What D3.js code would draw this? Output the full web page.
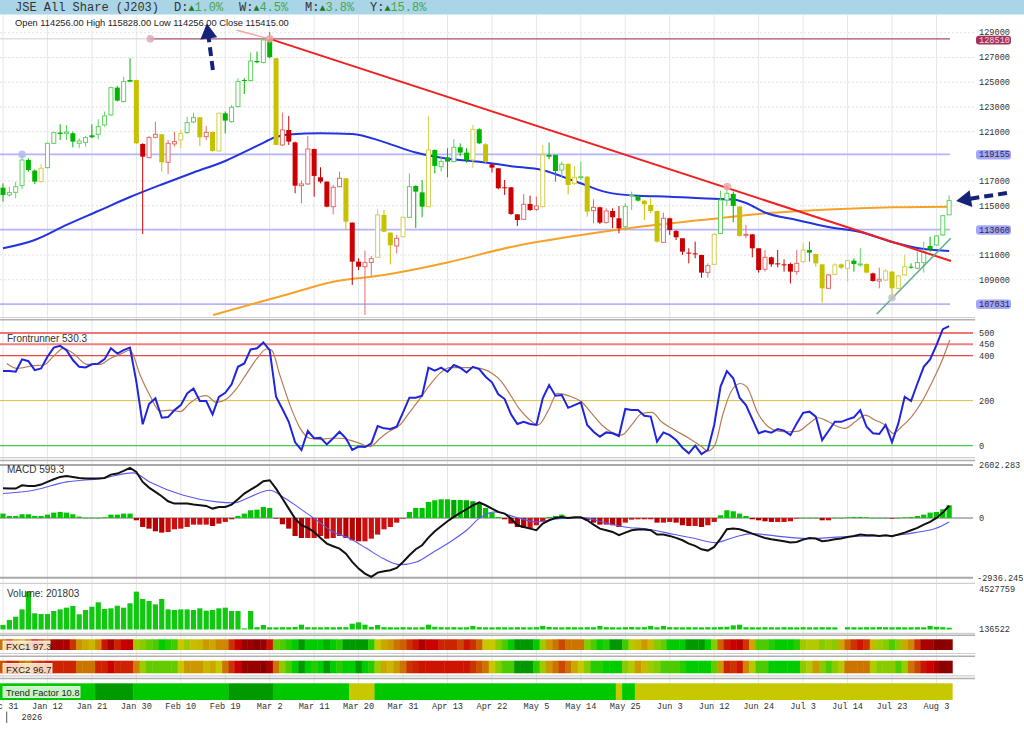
<!DOCTYPE html>
<html><head><meta charset="utf-8">
<script src="https://cdn.jsdelivr.net/npm/d3@7"></script>
<style>
html,body{margin:0;padding:0;background:#fff;overflow:hidden;}
svg{display:block;}
</style></head><body>
<svg id="c" width="1024" height="735"></svg>
<script>
// ---------------- DATA ----------------
const tickIdx = [0,7,14,21,28,35,42,49,56,63,70,77,84,91,98,105,112,119,126,133,140,147];
const tickLabels = ["Dec 31","Jan 12","Jan 21","Jan 30","Feb 10","Feb 19","Mar 2","Mar 11","Mar 20","Mar 31","Apr 13","Apr 22","May 5","May 14","May 25","Jun 3","Jun 12","Jun 24","Jul 3","Jul 14","Jul 23","Aug 3"];
const priceTicks = [127000,125000,123000,121000,117000,115000,111000,109000];
const priceLevels = [119155,113060,107031];
const highLevel = 128510;
const frontLevels = [500,450,400,200,0];

const opens = [116460,115870,116080,116620,118700,117840,116950,118080,120050,120920,
120860,120860,120050,120130,120700,120780,121540,122350,124560,123430,
125180,125180,120000,118890,120540,120780,118510,120000,120320,120920,
121780,122160,120590,120970,119430,122480,121810,123020,125180,125130,
126720,126590,128480,126940,119920,121130,120130,116620,116760,119590,
117300,116950,114920,116540,117220,113630,110470,110060,110410,110820,
114250,112820,111740,112490,114060,116600,116080,114920,119510,118160,
118920,118570,119730,119300,118700,121190,119970,118350,118030,116490,
116490,114300,113900,115140,114710,114920,119110,119110,117890,118380,
116810,117300,117350,114600,114870,113630,114570,113980,113300,115790,
115730,115410,115060,114570,112030,113980,112950,112360,111200,111140,
111010,109600,110250,112760,115460,115950,114920,112630,112680,111550,
109850,110820,110330,110250,110280,109660,110470,111410,111090,110250,
108310,109440,110250,109930,110550,110200,110280,109520,108900,108980,
109660,108310,109390,110060,109930,110390,111740,111820,112630,114256];
const highs = [116810,116540,116950,119110,118840,117950,118380,120110,121000,121590,
121540,121000,120460,120650,121590,122000,122620,124640,124700,125450,
126940,125200,120050,120650,121810,120800,120320,121000,121130,122210,
122540,122180,121460,120990,122540,122620,123160,125320,125320,127400,
127480,128560,129050,126960,122540,122270,120190,117030,120650,119610,
118110,116970,116680,117760,117240,113650,110740,111360,110930,114710,
114650,112840,112630,114080,117620,116650,117080,122270,119560,118970,
119650,120380,120050,119650,121540,121270,120050,118430,118050,117080,
116510,114320,115950,115810,115730,119920,120110,119130,118570,118430,
118220,118570,117400,115520,114920,114790,114790,114980,115200,116140,
115870,115450,115600,114600,114440,114030,113030,112380,111550,112090,
111030,110330,112760,116220,116680,116140,114980,113440,112710,111570,
111410,110870,111410,110660,110390,111410,111950,112090,111100,110270,
109470,110330,110330,110600,110740,111550,110330,109580,109980,109850,
109700,109390,111010,110330,111280,112090,112490,112630,114250,115828];
const lows = [115330,115730,115600,116330,117760,116760,116870,118030,120000,120320,
120320,119730,119650,119780,120460,120380,121400,122270,123430,123350,
125040,120000,112710,118860,120460,117760,117570,119780,119650,120810,
121670,119840,120320,119380,119380,120860,121730,122970,124050,125050,
126530,126530,126940,119900,119840,119920,116000,115190,116680,115730,
116810,114870,114300,116490,113030,108580,109790,106150,109310,110760,
112870,110250,111140,112460,114000,113200,114060,114870,117620,117760,
117300,118490,119030,118490,118030,120000,118430,117680,116330,115870,
114250,113360,113850,114570,114570,114870,118760,116950,117300,115920,
116680,117080,114110,113570,113520,113570,113170,112760,113000,114650,
115330,113840,114380,112010,112000,112630,112220,111010,110330,110740,
109170,109170,110200,112710,114980,113650,112490,112360,110820,109580,
109660,110060,110010,109660,108710,109390,110390,110470,110060,107150,
108250,109380,109850,108850,109660,110060,109520,108850,108310,108900,
107500,108250,109330,109900,109850,109580,111280,111740,112550,114256];
const closes = [115870,116060,116540,118700,117890,116950,118030,120050,120920,120810,
120970,120190,120240,120510,120540,121400,122270,124560,123510,125050,
125040,120050,118970,120510,120780,118510,120050,120190,120860,121730,
122130,120540,120940,119430,122480,121890,122970,125050,125100,126720,
126610,128420,127020,119920,121130,120190,116620,116760,119590,117410,
116950,114920,116490,117220,113710,110470,110060,110390,110710,114250,
112900,111790,112360,114060,116540,116140,114920,119510,118220,118570,
118570,119730,119300,118700,121190,120050,118570,118080,116410,116430,
114330,113840,115110,114650,114980,119110,118970,117810,118350,116680,
117300,117350,114520,114870,113630,114570,114060,113170,114950,115870,
115410,115110,114570,112090,113980,113030,112440,111280,111140,111060,
109580,110140,112680,115460,116000,114980,112550,112680,111550,109790,
110820,110250,110250,110220,109660,110330,111410,111200,110330,108310,
109390,110200,109980,110550,110280,110280,109580,108900,109040,109710,
108310,109310,110060,109980,110390,111280,111470,112550,114190,115415];
const candleColors = "GGGGGGYGGG"+"GGGGGGGGGG"+"GYRRRYRRYG"+"GYRYYGGGGG"+"GGGYRRRRRR"+
  "RRRRYRRRRY"+"YYRYGGGYGG"+"GGGGYGYRRR"+"RRRRRYGGGY"+"YGYRRRRRGG"+
  "GYYYRRRRRR"+"RRYGGGYRRR"+"RRRRRRYGYY"+"RYYYGGYRRY"+"YYYGGGGGGG";

const ma50Idx = [0,5,10,15,20,25,30,35,40,43,45,50,55,60,65,70,75,80,85,90,95,100,105,110,115,117,120,125,130,135,140,145,149];
const ma50Val = [111550,112220,113440,114570,115700,116720,117690,118620,119840,120560,120770,120860,120810,120150,119300,118800,118560,118200,117870,117000,116100,115800,115730,115600,115500,115220,114450,113840,113280,112870,112060,111490,111330];
const ma200Idx = [33.1,40,45,52,60,70,80,90,100,110,120,130,140,149];
const ma200Val = [106150,107140,107850,108840,109390,110400,111660,112550,113280,113840,114380,114690,114870,114920];

const frontBlue = [331,331,328,383,375,335,343,395,435,443,
424,380,350,347,361,364,384,432,409,424,
435,284,95,185,210,124,127,158,180,232,
254,198,198,139,217,235,272,350,365,427,
432,458,424,217,163,106,15,-19,65,33,
35,6,33,62,33,-19,-4,-6,10,87,
77,74,84,148,213,213,222,346,333,346,
328,358,346,325,350,340,306,281,228,207,
139,96,106,96,92,210,269,222,225,168,
180,192,92,62,40,59,55,43,163,158,
158,133,129,18,59,47,25,-9,-34,0,
-37,-19,92,262,331,299,213,180,118,55,
65,58,74,67,47,99,146,151,129,25,
65,106,106,117,126,158,84,55,52,92,
15,99,217,198,276,350,383,446,517,530.3];
const frontSigIdx = [0.6,2.2,4.8,6.4,7.9,9.5,11.1,13.2,15.3,16.9,18.4,20,21.6,23.1,24.7,26.3,27.9,29.4,31,32,33.6,35.2,36.8,38.4,40,41.5,42.3,43.6,45.2,46.8,48.3,49.9,51.5,53.1,54.6,56.2,57.8,59.4,60.9,62.5,64.1,65.7,67.2,68.8,70.4,72,73.5,74.5,77,78.5,79.6,81.2,82.7,84.3,85.9,87.3,89.5,91.1,92.7,94.3,95.9,97.4,99,100.6,102.2,103.7,105.8,107.9,110,111,112.1,113.4,114.8,116.1,117.1,118.9,120.5,122.1,123.7,125.3,126.8,128.4,130,131.5,132.6,134.2,135.8,137.3,138.9,140.2,141.5,143.1,144.7,146.2,147.8,149.1];
const frontSigVal = [365,343,355,358,395,432,409,361,361,387,405,424,313,225,154,158,151,188,217,222,192,207,254,321,387,429,424,313,180,77,33,28,33,33,25,10,-4,33,65,92,151,210,269,321,346,346,346,345,321,284,239,168,121,92,158,232,217,195,143,92,59,47,92,143,148,106,69,35,-4,-24,3,143,247,276,262,143,84,65,62,65,95,124,106,84,77,106,136,114,92,55,84,129,195,276,372,469];

const macdLine = [1459,1443,1443,1607,1574,1574,1640,1771,1902,2016,
2066,2016,1967,1934,1934,1934,1967,2131,2180,2311,
2459,2262,1771,1492,1279,1066,821,706,706,706,
657,624,591,460,542,542,657,919,1197,1394,
1574,1803,1853,1443,952,460,-31,-359,-490,-687,
-981,-1260,-1391,-1506,-1752,-2161,-2489,-2735,-2898,-2685,
-2620,-2571,-2456,-2161,-1834,-1538,-1342,-965,-654,-408,
-162,51,247,428,624,770,624,460,297,215,
-31,-359,-441,-523,-604,-277,-113,2,51,2,
34,34,-113,-326,-523,-604,-686,-850,-719,-604,
-572,-572,-604,-817,-817,-883,-981,-1096,-1260,-1375,
-1539,-1604,-1424,-1014,-555,-523,-555,-654,-768,-883,
-981,-1047,-1096,-1145,-1211,-1178,-1063,-981,-1014,-1145,
-1112,-1047,-1014,-932,-883,-817,-850,-850,-883,-850,
-899,-817,-719,-604,-490,-326,-195,2,264,599.3];
const macdSigIdx = [0,4.8,10,15.3,20.5,23.1,28.4,33.7,36.3,38.9,42,44.1,46.8,49.4,52,54.6,57.3,59.9,62.5,65.1,67.8,70.4,73,75.1,77.5,80.6,84,87.5,91.1,95.3,97.9,101.6,105.8,109,112.1,115.3,117.9,121.6,126.8,132.1,137.3,140.5,143.6,146.8,149];
const macdSigVal = [1200,1361,1771,1934,2213,1771,1115,788,739,1034,1361,1034,460,-113,-686,-1014,-1505,-1997,-2292,-2161,-1670,-1178,-604,2,297,51,-195,-31,18,-277,-441,-555,-817,-1014,-1211,-932,-768,-883,-1014,-932,-883,-850,-719,-523,-195];
const macdHist = [213,98,98,180,180,98,98,164,262,295,
262,180,66,10,10,10,33,164,164,213,
213,-115,-443,-525,-656,-722,-689,-558,-525,-443,
-328,-328,-328,-394,-279,-197,-66,98,213,377,
410,541,492,-33,-312,-525,-886,-984,-984,-984,
-886,-1017,-984,-886,-984,-1099,-1148,-1148,-1017,-820,
-558,-443,-230,-10,295,492,492,787,869,918,
918,886,886,869,820,730,492,262,49,-66,
-279,-443,-492,-492,-361,-164,49,98,164,49,
16,8,-115,-230,-328,-328,-361,-443,-230,-82,
-66,-66,-66,-230,-230,-197,-230,-361,-394,-394,
-443,-361,-197,131,377,328,213,98,-66,-115,
-164,-197,-197,-197,-164,-33,5,5,5,-115,
-115,5,5,33,49,49,33,5,5,5,
-33,5,33,49,98,164,262,295,426,623];

const volumes = [503000,1060000,1430000,2250000,4230000,1810000,1730000,1730000,2070000,2250000,
2440000,2630000,1700000,2180000,2550000,3040000,2290000,2370000,2660000,2440000,
2930000,4230000,3410000,3190000,2810000,3410000,2250000,2180000,2250000,2250000,
2180000,2370000,2110000,2180000,2370000,2440000,2070000,2070000,130000,2070000,
260000,500000,250000,240000,260000,250000,280000,540000,260000,250000,
240000,260000,250000,270000,260000,650000,800000,540000,300000,500000,
260000,250000,240000,260000,250000,240000,260000,540000,300000,260000,
250000,260000,240000,250000,400000,260000,250000,240000,260000,250000,
240000,260000,250000,240000,260000,400000,280000,250000,240000,260000,
250000,240000,260000,250000,400000,260000,250000,240000,260000,280000,
250000,260000,400000,250000,400000,260000,250000,240000,260000,250000,
240000,260000,250000,280000,300000,460000,540000,260000,250000,240000,
260000,250000,240000,260000,250000,240000,260000,250000,240000,260000,
250000,240000,0,260000,250000,240000,260000,250000,280000,260000,
250000,260000,240000,250000,260000,250000,400000,300000,260000,201803];

const fxc1 = [65,75,62,56,68,85,75,70,92,92,
92,75,60,56,53,62,81,92,78,85,
88,42,38,33,30,20,25,28,50,42,
52,53,59,56,62,62,75,85,95,95,
98,95,81,33,30,25,20,5,20,20,
20,12,20,25,5,5,5,5,25,50,
56,59,65,68,75,81,92,85,85,78,
78,78,72,81,75,68,50,50,38,30,
20,5,5,5,20,42,59,65,72,65,
65,65,38,30,20,25,5,5,28,46,
53,59,53,38,33,20,20,20,5,5,
5,20,38,68,81,85,88,75,56,30,
30,25,20,20,20,25,42,46,46,38,
42,38,56,68,75,81,75,53,42,38,
30,38,56,62,75,92,92,98,98,97.3];
const fxc2 = [70,78,75,65,62,72,75,78,78,78,
78,78,65,65,65,78,78,85,78,78,
78,63,42,33,33,33,33,33,50,59,
59,59,53,56,50,65,75,85,95,95,
95,98,92,65,38,30,20,5,20,25,
20,5,20,25,20,20,5,20,25,42,
56,53,59,65,75,78,81,81,81,81,
81,81,81,81,75,70,65,50,38,30,
30,5,5,5,25,42,59,65,72,65,
56,50,38,25,25,20,20,20,38,46,
59,53,42,38,30,30,30,25,20,20,
20,20,33,59,78,75,81,62,46,30,
30,20,20,20,20,20,38,46,59,38,
30,38,46,65,65,65,65,46,38,38,
38,30,42,65,72,81,85,92,98,96.7];
const trendRunLen = [15,6,15,7,12,4,38,1,2,50];
const trendRunState = ["up","strong","up","strong","up","weak","up","weak","up","weak"];

// annotation anchors (candle index, price)
const redTrend = [[36.85,129210],[42,128510],[149.3,110520]];
const greenTrend = [[137.6,106230],[149.25,112360]];
const markers = [{i:23.2,v:128510,c:"#d9a9bb"},{i:3,v:119155,c:"#b3b8f5"},{i:42,v:128510,c:"#f2a0a0"},{i:114.06,v:116540,c:"#f3a6a6"},{i:140,v:107550,c:"#c4c4c4"}];
const upArrow = {tail:[33.05,125990], tip:[32.1,129750]};
const leftArrow = {tail:[158.1,116030], tip:[150.1,115380]};

// ---------------- SCALES ----------------
const svg = d3.select("#c");
const defs = svg.append("defs");
const xS = d3.scaleLinear().domain([0,147]).range([3,936.45]);
const yP = d3.scaleLinear().domain([107031,129000]).range([304.1,32.8]);
const yF = d3.scaleLinear().domain([0,500]).range([445.7,333]);
const yM = d3.scaleLinear().domain([-2936.245,2602.283]).range([577.7,465]);
const yV = d3.scaleLinear().domain([0,4527759]).range([629.5,589]);
const fxcColor = d3.scaleLinear().domain([0,20,38,50,62,75,85,100])
  .range(["#008800","#00cc00","#88cc00","#c8c800","#cc8800","#cc3300","#cc0000","#800000"]);
const trendColor = {up:"#00c800",strong:"#009a00",weak:"#c8c800"};
const N = opens.length;
const step = xS(1)-xS(0);

function clip(id,x,y,w,h){defs.append("clipPath").attr("id",id).append("rect").attr("x",x).attr("y",y).attr("width",w).attr("height",h);}
clip("cp",0,15,953,302);
clip("cf",0,321,975,137);
clip("cm",0,465,975,113);
clip("s1",0,639.3,1024,10.7);
clip("s2",0,660.7,1024,12.6);
clip("s3",0,683.3,1024,16.7);

const mono = "'Liberation Mono','DejaVu Sans Mono',monospace";
const sans = "'Liberation Sans',Arial,sans-serif";

// ---------------- HEADER ----------------
svg.append("rect").attr("x",0).attr("y",0).attr("width",1024).attr("height",14.5).attr("fill","#a9d5e6");
svg.append("text").attr("x",15).attr("y",11).attr("font-family",mono).attr("font-size",12).attr("fill","#333").text("JSE All Share (J203)");
const chg = [["D:","1.0%",174],["W:","4.5%",239],["M:","3.8%",305],["Y:","15.8%",370]];
chg.forEach(c=>{
  const t = svg.append("text").attr("x",c[2]).attr("y",11).attr("font-family",mono).attr("font-size",12);
  t.append("tspan").attr("fill","#333").text(c[0]);
  t.append("tspan").attr("fill","#1f7a1f").attr("font-size",10).text("▲");
  t.append("tspan").attr("fill","#4aa64a").text(c[1]);
});

// ---------------- GRID ----------------
const grid = svg.append("g");
tickIdx.forEach(i=>{
  grid.append("line").attr("x1",xS(i)).attr("x2",xS(i)).attr("y1",15).attr("y2",703).attr("stroke","#e6e6e6").attr("stroke-width",1);
});
[129000].concat(priceTicks).forEach(v=>{
  grid.append("line").attr("x1",0).attr("x2",975).attr("y1",yP(v)).attr("y2",yP(v)).attr("stroke","#e2e2e2").attr("stroke-dasharray","2,2");
});

svg.append("text").attr("x",15).attr("y",26).attr("font-family",sans).attr("font-size",9.3).attr("fill","#222")
  .text("Open 114256.00  High 115828.00  Low 114256.00  Close 115415.00");

// ---------------- PRICE PANEL ----------------
const pp = svg.append("g").attr("clip-path","url(#cp)");
priceLevels.forEach(v=>{
  pp.append("line").attr("x1",0).attr("x2",950).attr("y1",yP(v)).attr("y2",yP(v)).attr("stroke","#b4b4fb").attr("stroke-width",1.8);
});
pp.append("line").attr("x1",0).attr("x2",xS(23.2)).attr("y1",yP(highLevel)).attr("y2",yP(highLevel)).attr("stroke","#dccaca").attr("stroke-width",1);
pp.append("line").attr("x1",xS(23.2)).attr("x2",950).attr("y1",yP(highLevel)).attr("y2",yP(highLevel)).attr("stroke","#a4506e").attr("stroke-width",1.2);

const lineP = d3.line().x(d=>xS(d[0])).y(d=>yP(d[1])).curve(d3.curveMonotoneX);
pp.append("path").attr("d",lineP(ma200Idx.map((d,k)=>[d,ma200Val[k]]))).attr("fill","none").attr("stroke","#f6a229").attr("stroke-width",2);
pp.append("path").attr("d",lineP(ma50Idx.map((d,k)=>[d,ma50Val[k]]))).attr("fill","none").attr("stroke","#2233e0").attr("stroke-width",2);

const cFill = {G:"#00b400",R:"#cc0000",Y:"#c6c200"};
const cLine = {G:"#5ed35e",R:"#e46c6c",Y:"#d5ce4e"};
for(let i=0;i<N;i++){
  const k = candleColors[i]; const x = xS(i);
  const filled = closes[i] < opens[i];
  const col = filled ? cFill[k] : cLine[k];
  pp.append("line").attr("x1",x).attr("x2",x).attr("y1",yP(highs[i])).attr("y2",yP(lows[i])).attr("stroke",col).attr("stroke-width",1);
  const yt = yP(Math.max(opens[i],closes[i])), yb = yP(Math.min(opens[i],closes[i]));
  if(filled){
    pp.append("rect").attr("x",x-2.5).attr("y",yt).attr("width",5).attr("height",Math.max(1,yb-yt)).attr("fill",col);
  } else {
    pp.append("rect").attr("x",x-2).attr("y",yt).attr("width",4).attr("height",Math.max(1,yb-yt)).attr("fill","#fff").attr("stroke",col).attr("stroke-width",1);
  }
}
const lineRaw = d3.line().x(d=>xS(d[0])).y(d=>yP(d[1]));
const topArea = svg.append("g");
topArea.append("path").attr("d",lineRaw(redTrend.slice(0,2))).attr("stroke","#f4a6a0").attr("stroke-width",1.5).attr("fill","none");
pp.append("path").attr("d",lineRaw(redTrend.slice(1))).attr("stroke","#ee2020").attr("stroke-width",2).attr("fill","none");
pp.append("path").attr("d",lineRaw(greenTrend)).attr("stroke","#5fae8a").attr("stroke-width",1.5).attr("fill","none");
markers.forEach(m=>{
  pp.append("circle").attr("cx",xS(m.i)).attr("cy",yP(m.v)).attr("r",3.8).attr("fill",m.c).attr("opacity",0.85);
});

// price axis labels
const pl = svg.append("g").attr("font-family",mono).attr("font-size",8.6).attr("fill","#333");
[129000].concat(priceTicks).forEach(v=>{
  pl.append("text").attr("x",979).attr("y",yP(v)+(v===129000?2:3)).text(v);
});
svg.append("rect").attr("x",976).attr("y",yP(highLevel)-3.2).attr("width",35).attr("height",8.8).attr("rx",3).attr("fill","#a3335c");
svg.append("text").attr("x",979).attr("y",yP(highLevel)+4).attr("font-family",mono).attr("font-size",8.6).attr("fill","#f6d6de").text(highLevel);
priceLevels.forEach(v=>{
  svg.append("rect").attr("x",976).attr("y",yP(v)-4.5).attr("width",35).attr("height",9.5).attr("rx",3).attr("fill","#a4a6fb");
  svg.append("text").attr("x",979).attr("y",yP(v)+3).attr("font-family",mono).attr("font-size",8.6).attr("fill","#2a2a44").text(v);
});

// arrows
function arrow(a){
  const t=[xS(a.tail[0]),yP(a.tail[1])], p=[xS(a.tip[0]),yP(a.tip[1])];
  const dx=p[0]-t[0], dy=p[1]-t[1], L=Math.hypot(dx,dy), ux=dx/L, uy=dy/L;
  const hb=[p[0]-ux*15,p[1]-uy*15], nx=-uy, ny=ux;
  svg.append("line").attr("x1",t[0]).attr("y1",t[1]).attr("x2",hb[0]+ux*2).attr("y2",hb[1]+uy*2)
    .attr("stroke","#16227a").attr("stroke-width",4).attr("stroke-dasharray","9,5");
  svg.append("path").attr("d",`M${p[0]},${p[1]}L${hb[0]+nx*8.5},${hb[1]+ny*8.5}L${hb[0]-nx*8.5},${hb[1]-ny*8.5}Z`).attr("fill","#16227a");
}
arrow(upArrow); arrow(leftArrow);

// ---------------- SEPARATORS ----------------
const sep = (y,c,w)=>svg.append("line").attr("x1",0).attr("x2",975).attr("y1",y).attr("y2",y).attr("stroke",c).attr("stroke-width",w);
sep(317.5,"#cfcfcf",1.2); sep(319.8,"#b0b0b0",1.5);
sep(457.7,"#cfcfcf",1.2); sep(460.5,"#b0b0b0",1.5);
sep(583.3,"#cfcfcf",1.2);
sep(633.3,"#cfcfcf",1.2); sep(635.3,"#b0b0b0",1.5);
sep(653.5,"#cfcfcf",1.2); sep(656.3,"#b0b0b0",1.5);
sep(675.8,"#cfcfcf",1.2); sep(678.5,"#b0b0b0",1.5);

// ---------------- FRONTRUNNER ----------------
const fColors = {500:"#e84848",450:"#f08080",400:"#e84848",200:"#d8c244",0:"#44cc44"};
const fW = {500:1.3,450:2,400:1.3,200:1,0:1.2};
frontLevels.forEach(v=>{
  svg.append("line").attr("x1",0).attr("x2",973).attr("y1",yF(v)).attr("y2",yF(v)).attr("stroke",fColors[v]).attr("stroke-width",fW[v]);
  svg.append("text").attr("x",979).attr("y",yF(v)+3).attr("font-family",mono).attr("font-size",8.6).attr("fill","#333").text(v);
});
const fp = svg.append("g").attr("clip-path","url(#cf)");
fp.append("path").attr("d",d3.line().x(d=>xS(d[0])).y(d=>yF(d[1])).curve(d3.curveMonotoneX)(frontSigIdx.map((d,k)=>[d,frontSigVal[k]]))).attr("fill","none").attr("stroke","#b97a55").attr("stroke-width",1.2);
fp.append("path").attr("d",d3.line().x(d=>xS(d[0])).y(d=>yF(d[1]))(frontBlue.map((v,i)=>[i,v]))).attr("fill","none").attr("stroke","#1f24dd").attr("stroke-width",2);
svg.append("text").attr("x",7).attr("y",341.5).attr("font-family",sans).attr("font-size",10).attr("fill","#333").text("Frontrunner 530.3");

// ---------------- MACD ----------------
svg.append("line").attr("x1",0).attr("x2",973).attr("y1",yM(2602.283)).attr("y2",yM(2602.283)).attr("stroke","#a8a8a8").attr("stroke-width",2);
svg.append("line").attr("x1",0).attr("x2",973).attr("y1",yM(-2936.245)).attr("y2",yM(-2936.245)).attr("stroke","#a8a8a8").attr("stroke-width",2);
svg.append("line").attr("x1",0).attr("x2",973).attr("y1",yM(0)).attr("y2",yM(0)).attr("stroke","#a0a0a0").attr("stroke-width",1.5);
[["2602.283",2602.283],["0",0],["-2936.245",-2936.245]].forEach(d=>{
  svg.append("text").attr("x",d[1]<0?977:979).attr("y",yM(d[1])+3).attr("font-family",mono).attr("font-size",8.6).attr("fill","#333").text(d[0]);
});
const mp = svg.append("g").attr("clip-path","url(#cm)");
macdHist.forEach((v,i)=>{
  const y0=yM(0), y1=yM(v);
  mp.append("rect").attr("x",xS(i)-2.6).attr("width",5.2).attr("y",Math.min(y0,y1)).attr("height",Math.max(0.6,Math.abs(y1-y0)))
    .attr("fill", v>=0 ? (i>0 && v<macdHist[i-1] && v>500 ? "#00a400":"#00c400") : (i>0 && v<macdHist[i-1] ? "#b80000":"#cc1010"));
});
mp.append("path").attr("d",d3.line().x(d=>xS(d[0])).y(d=>yM(d[1])).curve(d3.curveMonotoneX)(macdSigIdx.map((d,k)=>[d,macdSigVal[k]]))).attr("fill","none").attr("stroke","#5a5af0").attr("stroke-width",1.1);
mp.append("path").attr("d",d3.line().x(d=>xS(d[0])).y(d=>yM(d[1]))(macdLine.map((v,i)=>[i,v]))).attr("fill","none").attr("stroke","#111").attr("stroke-width",2);
svg.append("text").attr("x",7).attr("y",473).attr("font-family",sans).attr("font-size",10).attr("fill","#333").text("MACD 599.3");

// ---------------- VOLUME ----------------
volumes.forEach((v,i)=>{
  if(v<=0) return;
  svg.append("rect").attr("x",xS(i)-2.6).attr("width",5.2).attr("y",yV(v)).attr("height",yV(0)-yV(v)).attr("fill","#10c810");
});
svg.append("text").attr("x",979).attr("y",yV(4527759)+3).attr("font-family",mono).attr("font-size",8.6).attr("fill","#333").text("4527759");
svg.append("text").attr("x",979).attr("y",629+3).attr("font-family",mono).attr("font-size",8.6).attr("fill","#333").text("136522");
svg.append("text").attr("x",7).attr("y",597).attr("font-family",sans).attr("font-size",10).attr("fill","#333").text("Volume: 201803");

// ---------------- STRIPS ----------------
function strip(vals,y,h,clipId,label,boxFill,lx,ly,lw,lh){
  const g = svg.append("g");
  vals.forEach((v,i)=>{
    g.append("rect").attr("x",xS(i)-step/2).attr("width",step+0.4).attr("y",y).attr("height",h).attr("fill",fxcColor(v));
  });
  const lg = svg.append("g").attr("clip-path",`url(#${clipId})`);
  lg.append("rect").attr("x",lx).attr("y",ly).attr("width",lw).attr("height",lh).attr("fill",boxFill).attr("stroke","#fff").attr("stroke-width",0.8);
  lg.append("text").attr("x",lx+3).attr("y",ly+lh-1.8).attr("font-family",sans).attr("font-size",9.5).attr("fill","#222").text(label);
}
strip(fxc1,639.3,10.7,"s1","FXC1 97.3","rgba(255,238,222,0.85)",3,641,47,11);
strip(fxc2,660.7,12.6,"s2","FXC2 96.7","rgba(255,238,222,0.85)",3,663.5,49,11);
{
  const g = svg.append("g");
  let start = 0;
  trendRunLen.forEach((len,k)=>{
    const x0 = xS(start)-step/2, x1 = xS(start+len-1)+step/2;
    g.append("rect").attr("x",x0).attr("width",x1-x0+0.3).attr("y",683.3).attr("height",16.7).attr("fill",trendColor[trendRunState[k]]);
    start += len;
  });
  const lg = svg.append("g").attr("clip-path","url(#s3)");
  lg.append("rect").attr("x",3).attr("y",686.5).attr("width",77).attr("height",11).attr("fill","rgba(215,250,215,0.9)").attr("stroke","#fff").attr("stroke-width",0.8);
  lg.append("text").attr("x",6).attr("y",695.6).attr("font-family",sans).attr("font-size",9.3).attr("fill","#222").text("Trend Factor 10.8");
}

// ---------------- X AXIS ----------------
tickIdx.forEach((i,k)=>{
  svg.append("text").attr("x",xS(i)).attr("y",709).attr("text-anchor","middle").attr("font-family",mono).attr("font-size",8.6).attr("fill","#333").text(tickLabels[k]);
});
svg.append("line").attr("x1",6.7).attr("x2",6.7).attr("y1",711.5).attr("y2",723).attr("stroke","#555").attr("stroke-width",1);
svg.append("text").attr("x",21.5).attr("y",720).attr("font-family",mono).attr("font-size",8.6).attr("fill","#333").text("2026");
</script>
</body></html>
